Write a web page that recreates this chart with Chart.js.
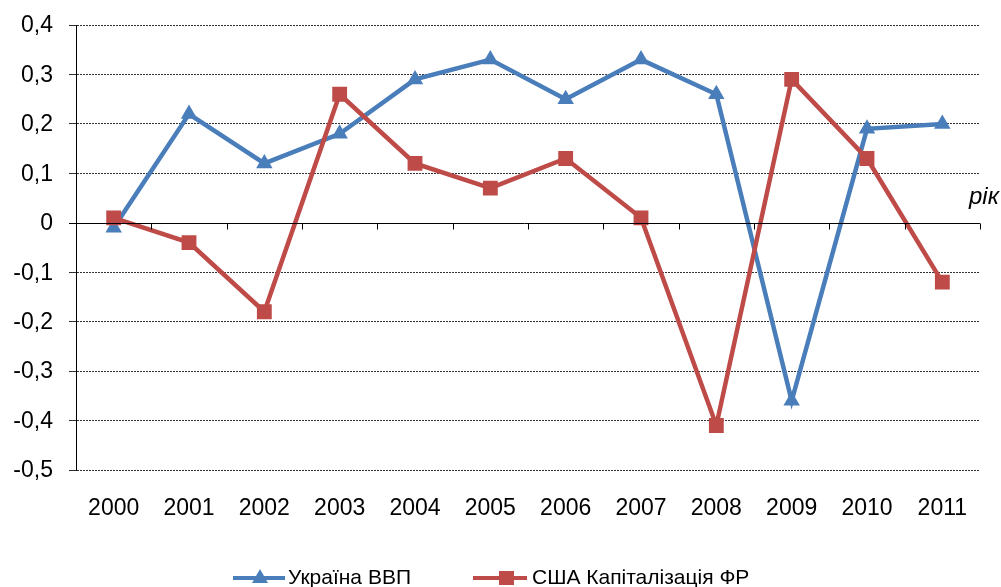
<!DOCTYPE html>
<html lang="uk">
<head>
<meta charset="UTF-8">
<title>Україна ВВП / США Капіталізація ФР</title>
<script src="https://cdn.jsdelivr.net/npm/chart.js"></script>
<style>
  html, body { margin: 0; padding: 0; background: #fff; }
  #wrap { width: 1001px; height: 587px; }
</style>
</head>
<body>
<div id="wrap"><canvas id="chart" width="1001" height="587"></canvas></div>
<script>
const years = ['2000', '2001', '2002', '2003', '2004', '2005', '2006', '2007', '2008', '2009', '2010', '2011'];
const ukraineGdp = [-0.01, 0.22, 0.12, 0.18, 0.29, 0.33, 0.25, 0.33, 0.26, -0.36, 0.19, 0.20];
const usaCap = [0.01, -0.04, -0.18, 0.26, 0.12, 0.07, 0.13, 0.01, -0.41, 0.29, 0.13, -0.12];

const BLUE = '#4a7ebb';
const RED = '#be4b48';
const FONT = '"Liberation Sans", Arial, sans-serif';

const fmt = v => Math.abs(v) < 1e-9 ? '0' : v.toFixed(1).replace('.', ',');

// tick labels, zero axis with category ticks, the "рік" caption and the legend
const extras = {
  id: 'extras',
  afterDatasetsDraw(chart) {
    const { ctx, chartArea: a, scales: { y } } = chart;
    const y0 = Math.round(y.getPixelForValue(0)) + 0.5;
    ctx.save();
    ctx.strokeStyle = '#000';
    ctx.lineWidth = 1;
    ctx.beginPath();
    ctx.moveTo(a.left - 7, y0);
    ctx.lineTo(a.right, y0);
    const w = (a.right - a.left) / years.length;
    for (let i = 0; i <= years.length; i++) {
      const x = Math.round(a.left + i * w) + 0.5;
      ctx.moveTo(x, y0);
      ctx.lineTo(x, y0 + 6);
    }
    ctx.stroke();
    ctx.restore();
  },
  afterDraw(chart) {
    const { ctx, chartArea: a, scales: { x, y } } = chart;
    ctx.save();
    ctx.fillStyle = '#000';
    ctx.font = '23px ' + FONT;
    ctx.textBaseline = 'middle';
    ctx.textAlign = 'right';
    y.ticks.forEach(t => {
      ctx.fillText(fmt(t.value), 53, y.getPixelForValue(t.value) + 1);
    });
    ctx.textAlign = 'center';
    years.forEach((lbl, i) => {
      ctx.fillText(lbl, x.getPixelForValue(i), a.bottom + 39);
    });

    ctx.font = 'italic 24px ' + FONT;
    ctx.textAlign = 'right';
    ctx.textBaseline = 'alphabetic';
    ctx.fillText('рік', 999, 204);

    // legend
    const ly = 578;
    ctx.lineWidth = 4;
    ctx.strokeStyle = BLUE;
    ctx.beginPath(); ctx.moveTo(233, ly); ctx.lineTo(285, ly); ctx.stroke();
    ctx.fillStyle = BLUE;
    ctx.beginPath();
    ctx.moveTo(260, ly - 9); ctx.lineTo(268, ly + 5); ctx.lineTo(252, ly + 5);
    ctx.closePath(); ctx.fill();

    ctx.strokeStyle = RED;
    ctx.beginPath(); ctx.moveTo(473, ly); ctx.lineTo(527, ly); ctx.stroke();
    ctx.fillStyle = RED;
    ctx.fillRect(499, ly - 7, 15, 14);

    ctx.fillStyle = '#000';
    ctx.font = '21px ' + FONT;
    ctx.textAlign = 'left';
    ctx.textBaseline = 'middle';
    ctx.fillText('Україна ВВП', 288, ly);
    ctx.fillText('США Капіталізація ФР', 532, ly);
    ctx.restore();
  }
};

new Chart(document.getElementById('chart'), {
  type: 'line',
  data: {
    labels: years,
    datasets: [
      {
        label: 'Україна ВВП',
        data: ukraineGdp,
        borderColor: BLUE,
        backgroundColor: BLUE,
        borderWidth: 4.5,
        pointStyle: 'triangle',
        pointRadius: 9.5,
        pointBorderWidth: 0,
        tension: 0,
        order: 2
      },
      {
        label: 'США Капіталізація ФР',
        data: usaCap,
        borderColor: RED,
        backgroundColor: RED,
        borderWidth: 4.5,
        pointStyle: 'rect',
        pointRadius: 10.5,
        pointBorderWidth: 0,
        tension: 0,
        order: 1
      }
    ]
  },
  options: {
    responsive: false,
    animation: false,
    layout: { padding: { top: 25, right: 21, bottom: 0, left: 0 } },
    plugins: { legend: { display: false }, tooltip: { enabled: false } },
    scales: {
      x: {
        offset: true,
        grid: { display: false },
        border: { display: false },
        ticks: { display: false },
        afterFit(scale) { scale.height = 117; }
      },
      y: {
        min: -0.5,
        max: 0.4,
        border: { display: true, color: '#000', width: 1, dash: [2, 1] },
        grid: {
          color: c => (c.tick && Math.abs(c.tick.value) < 1e-9) ? 'rgba(0,0,0,0)' : '#333',
          lineWidth: 1,
          tickLength: 7
        },
        ticks: { stepSize: 0.1, display: false },
        afterFit(scale) { scale.width = 76; }
      }
    }
  },
  plugins: [extras]
});
</script>
</body>
</html>
